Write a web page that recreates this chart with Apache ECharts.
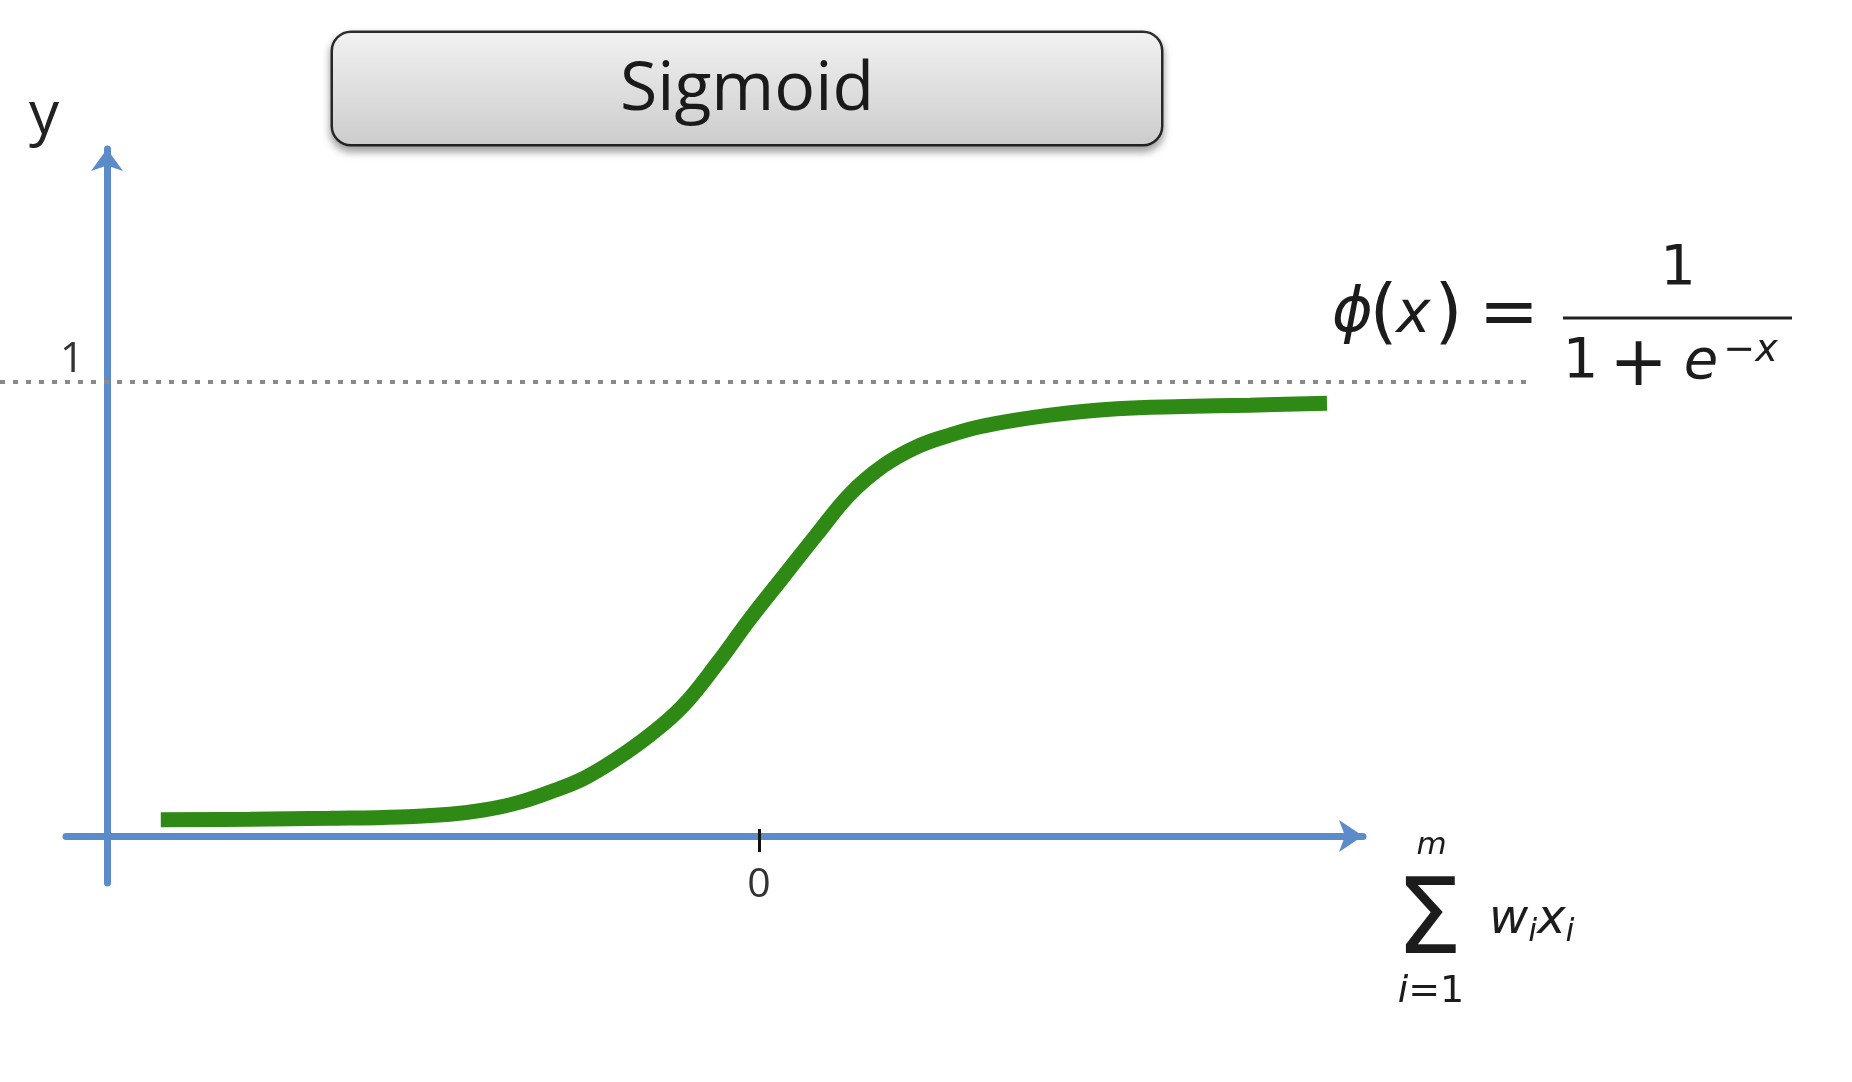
<!DOCTYPE html>
<html><head><meta charset="utf-8">
<script src="https://cdn.jsdelivr.net/npm/echarts@6/dist/echarts.min.js"></script>
<style>html,body{margin:0;padding:0;background:#fff}#c{width:1852px;height:1082px}</style>
</head><body><div id="c"></div>
<script>
// ---- data ----
const curveX = [-9.97,-8.48,-7.15,-5.98,-5.15,-4.60,-4.03,-3.48,-2.93,-2.37,-1.82,-1.27,-0.70,-0.15,0.40,0.97,1.52,2.07,2.63,3.18,3.73,4.85,5.97,7.07,8.18,9.47];
const curveY = [0.036,0.037,0.039,0.042,0.048,0.057,0.073,0.097,0.126,0.170,0.222,0.286,0.379,0.478,0.570,0.665,0.753,0.815,0.857,0.883,0.903,0.927,0.941,0.946,0.949,0.953];
const asymptoteX = [-12.65, 12.85];
const asymptoteY = [1, 1];
const xTickValues = [0];
const yTickValues = [1];

const AXIS_BLUE = '#5b8bc9';
const INK = '#1c1c1c';
const F = 'DejaVu Sans';
const X_RANGE = [-11.55, 10.07];
const Y_RANGE = [-0.1035, 1.5132];

function T(text, cx, cy, style) {
  return { text: text, left: cx, top: cy, textAlign: 'center', textVerticalAlign: 'middle', padding: 0,
           textStyle: Object.assign({ fontFamily: F, color: INK, fontWeight: 'normal' }, style) };
}

const chart = echarts.init(document.getElementById('c'), null, { renderer: 'canvas', width: 1852, height: 1082 });

const titleBoxBg = new echarts.graphic.LinearGradient(0, 0, 0, 1, [
  { offset: 0, color: '#f2f2f2' }, { offset: 1, color: '#cccccc' }
]);

chart.setOption({
  animation: false,
  backgroundColor: '#ffffff',
  title: [
    { left: 333, top: 35, padding: 0, textAlign: 'left', textVerticalAlign: 'top', text: '{b|Sigmoid}',
      textStyle: { fontWeight: 'normal', rich: { b: { width: 828, height: 107, lineHeight: 107, padding: [4, 0, 0, 0],
        align: 'center', fontSize: 68, fontWeight: 'normal',
        fontFamily: 'Open Sans', color: '#1a1a1a', backgroundColor: titleBoxBg, borderColor: '#2e2e2e',
        borderWidth: 2.5, borderRadius: 18, shadowBlur: 8, shadowOffsetY: 5, shadowColor: 'rgba(0,0,0,0.35)' } } } },
    T('y', 44, 117, { fontSize: 60, fontFamily: 'Open Sans', color: '#222' }),
    // phi(x) = 1 / (1 + e^-x)
    T('\u03D5', 1352.5, 315, { fontSize: 62, fontStyle: 'italic' }),
    T('(', 1383.5, 316, { fontSize: 72 }),
    T('x', 1413.5, 317, { fontSize: 58, fontStyle: 'italic' }),
    T(')', 1448.5, 316, { fontSize: 72 }),
    T('=', 1509, 316, { fontSize: 72 }),
    T('1', 1678, 269, { fontSize: 56 }),
    T('{bar| }', 1677.5, 318, { rich: { bar: { width: 229, height: 3, lineHeight: 3, fontSize: 1, backgroundColor: '#222' } } }),
    T('1', 1580.5, 362.6, { fontSize: 56 }),
    T('+', 1638.5, 367, { fontSize: 70 }),
    T('e', 1701, 363.6, { fontSize: 56, fontStyle: 'italic' }),
    T('\u2212x', 1750.5, 351, { fontSize: 38, fontStyle: 'italic' }),
    // sum_{i=1}^{m} w_i x_i
    T('m', 1431.5, 846, { fontSize: 31, fontStyle: 'italic' }),
    T('\u03A3', 1429, 925, { fontSize: 106 }),
    T('{i|i}{n|=1}', 1431, 992, { rich: {
      i: { fontSize: 38, fontStyle: 'italic', fontWeight: 'normal', fontFamily: F, color: INK },
      n: { fontSize: 38, fontWeight: 'normal', fontFamily: F, color: INK } } }),
    { left: 1489, top: 893, padding: 0, textAlign: 'left', textVerticalAlign: 'top',
      text: '{v|w}{s|i}{v|x}{s|i}',
      textStyle: { fontWeight: 'normal', rich: {
        v: { fontSize: 48, fontStyle: 'italic', fontWeight: 'normal', lineHeight: 56, fontFamily: F, color: INK },
        s: { fontSize: 32, fontStyle: 'italic', fontWeight: 'normal', lineHeight: 21, verticalAlign: 'bottom', fontFamily: F, color: INK } } } }
  ],
  grid: [
    { left: 66, right: 489, top: 149, bottom: 199, containLabel: false, outerBoundsMode: 'none' },
    { left: 0, right: 322, top: 149, bottom: 199, containLabel: false, outerBoundsMode: 'none' }
  ],
  xAxis: [
    { type: 'value', gridIndex: 0, min: X_RANGE[0], max: X_RANGE[1], position: 'bottom', offset: -47,
      axisLine: { show: true, onZero: false, symbol: ['none', 'arrow'], symbolSize: [24, 24],
        lineStyle: { color: AXIS_BLUE, width: 7 } },
      axisTick: { show: true, customValues: xTickValues, length: 16, lineStyle: { color: '#111', width: 3 } },
      axisLabel: { show: true, customValues: xTickValues, margin: 29, fontSize: 41, fontFamily: 'Open Sans', color: '#333' },
      splitLine: { show: false } },
    { type: 'value', gridIndex: 0, min: X_RANGE[0], max: X_RANGE[1], position: 'bottom', offset: -47,
      axisLine: { show: true, onZero: false, lineStyle: { color: 'rgba(0,0,0,0)', width: 1 } },
      axisTick: { show: true, inside: true, customValues: xTickValues, length: 7, lineStyle: { color: '#111', width: 3 } },
      axisLabel: { show: false },
      splitLine: { show: false } },
    { type: 'value', gridIndex: 1, min: asymptoteX[0], max: asymptoteX[1], show: false }
  ],
  yAxis: [
    { type: 'value', gridIndex: 0, min: Y_RANGE[0], max: Y_RANGE[1], position: 'left', offset: -41,
      axisLine: { show: true, onZero: false, symbol: ['none', 'arrow'], symbolSize: [24, 22],
        lineStyle: { color: AXIS_BLUE, width: 7 } },
      axisTick: { show: false },
      axisLabel: { show: true, customValues: yTickValues, margin: 23, fontSize: 42, lineHeight: 44,
        verticalAlign: 'bottom', fontFamily: 'Open Sans', color: '#333' },
      splitLine: { show: false } },
    { type: 'value', gridIndex: 1, min: Y_RANGE[0], max: Y_RANGE[1], show: false }
  ],
  series: [
    { name: 'asymptote', type: 'line', xAxisIndex: 2, yAxisIndex: 1, symbol: 'none', silent: true,
      data: asymptoteX.map((x, i) => [x, asymptoteY[i]]),
      lineStyle: { color: '#8a8a8a', width: 4, type: [5, 8] }, z: 2 },
    { name: 'sigmoid', type: 'line', xAxisIndex: 0, yAxisIndex: 0, smooth: 0.4, symbol: 'none',
      data: curveX.map((x, i) => [x, curveY[i]]),
      lineStyle: { color: '#2f8a15', width: 15, cap: 'butt' }, z: 3 }
  ]
});
</script>
</body></html>
